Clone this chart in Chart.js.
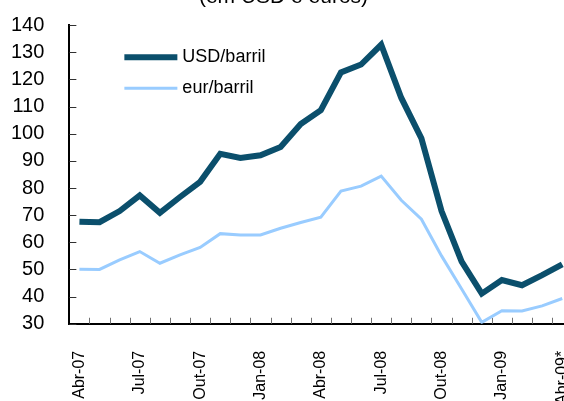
<!DOCTYPE html>
<html>
<head>
<meta charset="utf-8">
<script src="https://cdn.jsdelivr.net/npm/chart.js@4"></script>
<style>
  html, body { margin: 0; padding: 0; background: #fff; }
  #caixa { position: relative; width: 564px; height: 401px; overflow: hidden; }
  #grafico { position: absolute; left: -26px; top: -15px; }
</style>
</head>
<body>
<div id="caixa"><canvas id="grafico" width="635" height="447"></canvas></div>
<script>
// meses de Abr-07 a Abr-09
var meses = ['Abr-07','Mai-07','Jun-07','Jul-07','Ago-07','Set-07','Out-07','Nov-07','Dez-07',
             'Jan-08','Fev-08','Mar-08','Abr-08','Mai-08','Jun-08','Jul-08','Ago-08','Set-08',
             'Out-08','Nov-08','Dez-08','Jan-09','Fev-09','Mar-09','Abr-09*'];
var usdBarril = [67.6, 67.4, 71.5, 77.3, 70.9, 76.7, 82.3, 92.6, 91.1, 92.1, 95.1, 103.6, 108.7,
                 122.6, 125.5, 132.8, 113.2, 98.3, 71.5, 52.9, 41.1, 46.1, 44.2, 47.9, 51.9];
var eurBarril = [50.1, 50.0, 53.5, 56.6, 52.3, 55.4, 58.1, 63.2, 62.7, 62.7, 65.2, 67.3, 69.3,
                 78.9, 80.7, 84.4, 75.5, 68.5, 55.0, 42.8, 30.5, 34.8, 34.7, 36.6, 39.3];
var ticksY = [30, 40, 50, 60, 70, 80, 90, 100, 110, 120, 130, 140];

var corUsd = '#0b4f6c';
var corEur = '#99ccff';
var fonte = '"Liberation Sans", Arial, sans-serif';

// tracinhos para dentro nos eixos
var tracosDentro = {
    id: 'tracosDentro',
    beforeDatasetsDraw: function(chart) {
        var c = chart.ctx, a = chart.chartArea;
        var sx = chart.scales.x, sy = chart.scales.y;
        c.save();
        c.lineWidth = 1;
        c.strokeStyle = '#707070';
        for (var i = 1; i <= meses.length; i++) {
            var x = Math.round(sx.getPixelForValue(i - 0.5)) + 0.5;
            c.beginPath(); c.moveTo(x, a.bottom); c.lineTo(x, a.bottom - 6); c.stroke();
        }
        c.strokeStyle = '#303030';
        ticksY.forEach(function(v) {
            var y = Math.round(sy.getPixelForValue(v)) + 0.5;
            c.beginPath(); c.moveTo(a.left, y); c.lineTo(a.left + 7, y); c.stroke();
        });
        c.restore();
    }
};

// legenda dentro do grafico
var legendaDentro = {
    id: 'legendaDentro',
    afterDraw: function(chart) {
        var c = chart.ctx, a = chart.chartArea;
        c.save();
        c.font = '18px ' + fonte;
        c.textBaseline = 'middle';
        chart.data.datasets.forEach(function(ds, i) {
            var y = a.top + 32 + i * 31;
            c.strokeStyle = ds.borderColor;
            c.lineWidth = ds.borderWidth;
            c.beginPath();
            c.moveTo(a.left + 55, y);
            c.lineTo(a.left + 108, y);
            c.stroke();
            c.fillStyle = '#000';
            c.fillText(ds.label, a.left + 113, y);
        });
        c.restore();
    }
};

var ctx = document.getElementById('grafico').getContext('2d');
var grafico = new Chart(ctx, {
    type: 'line',
    data: {
        labels: meses,
        datasets: [{
            label: 'USD/barril',
            data: usdBarril,
            borderColor: corUsd,
            backgroundColor: corUsd,
            borderWidth: 6,
            pointRadius: 0,
            tension: 0
        },
        {
            label: 'eur/barril',
            data: eurBarril,
            borderColor: corEur,
            backgroundColor: corEur,
            borderWidth: 3,
            pointRadius: 0,
            tension: 0
        }]
    },
    options: {
        responsive: false,
        animation: false,
        layout: { padding: { left: 12, right: 28, top: 0, bottom: 0 } },
        plugins: {
            legend: { display: false },
            tooltip: { enabled: false },
            title: {
                display: true,
                text: '(em USD e euros)',
                color: '#000',
                font: { family: fonte, size: 21, weight: 'normal' },
                padding: { top: 0, bottom: 15 }
            }
        },
        scales: {
            x: {
                offset: true,
                border: { display: true, color: '#000', width: 2 },
                grid: { display: false, drawTicks: false },
                ticks: {
                    autoSkip: false,
                    minRotation: 90,
                    maxRotation: 90,
                    padding: 27,
                    color: '#000',
                    font: { family: fonte, size: 16 },
                    callback: function(v, i) { return i % 3 === 0 ? meses[i] : ''; }
                }
            },
            y: {
                min: 30,
                max: 140,
                border: { display: true, color: '#000', width: 2 },
                grid: { display: false, drawTicks: false },
                ticks: {
                    stepSize: 10,
                    autoSkip: false,
                    padding: 25,
                    color: '#000',
                    font: { family: fonte, size: 20 }
                }
            }
        }
    },
    plugins: [tracosDentro, legendaDentro]
});
</script>
</body>
</html>
